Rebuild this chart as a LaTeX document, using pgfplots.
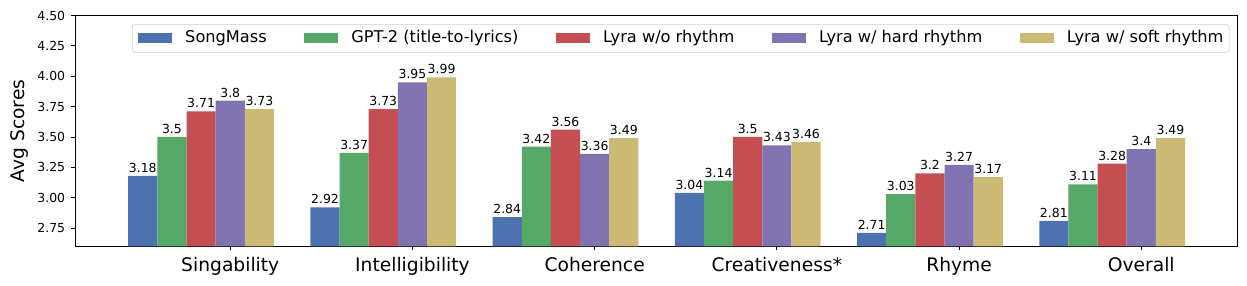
\documentclass[border=0pt]{standalone}
\usepackage{fontspec}
\setmainfont{DejaVu Sans}
\usepackage{pgfplots}
\pgfplotsset{compat=1.18}
\definecolor{cA}{HTML}{4C72B0}
\definecolor{cB}{HTML}{55A868}
\definecolor{cC}{HTML}{C44E52}
\definecolor{cD}{HTML}{8172B2}
\definecolor{cE}{HTML}{CCB974}
\pgfkeys{/pgf/number format/assume math mode=true}
\pgfplotsset{mylegend/.style={legend image code/.code={\fill[##1,draw=none,sharp corners] (0pt,-3.6pt) rectangle (24.6pt,3.6pt);}},
  bs/.style={ybar, bar shift=#1, every node near coord/.append style={shift={(axis direction cs:#1,0)}}}}
\begin{document}
\begin{tikzpicture}
\path[use as bounding box] (-54.2pt,-28pt) rectangle (847pt,178pt);
\begin{axis}[
  at={(0,0)}, anchor=south west,
  scale only axis, width=840pt, height=166.8pt,
  xmin=-0.852, xmax=5.527, ymin=2.6, ymax=4.5,
  xtick={0,1,2,3,4,5},
  xticklabels={Singability,Intelligibility,Coherence,Creativeness*,Rhyme,Overall},
  ytick={2.75,3,3.25,3.5,3.75,4,4.25,4.5},
  yticklabel={\pgfmathprintnumber[fixed,fixed zerofill,precision=2]{\tick}},
  /pgf/number format/assume math mode=true,
  tick align=outside, xtick pos=bottom, ytick pos=left,
  major tick length=3pt,
  tick style={black, line width=0.6pt},
  axis line style={line width=0.6pt},
  yticklabel style={font=\fontsize{9}{9}\selectfont, anchor=east, inner sep=0pt, xshift=-3.9pt},
  xticklabel style={font=\fontsize{13.5}{13.5}\selectfont, anchor=north, inner sep=0pt, text height=0.76em, yshift=-7.5pt},
  every axis y label/.style={at={(axis description cs:0,0.5)}, xshift=-46.5pt, rotate=90, anchor=north, inner sep=0pt, font=\fontsize{13.5}{13.5}\selectfont},
  ylabel={Avg Scores},
  bar width=0.16,
  nodes near coords={\pgfmathprintnumber{\pgfplotspointmeta}},
  every node near coord/.append style={font=\fontsize{9}{9}\selectfont, inner sep=0pt, anchor=south, yshift=2.2pt},
  legend columns=5,
  legend style={at={(rel axis cs:1,1)}, anchor=north east, xshift=-5.8pt, yshift=-6.4pt,
    draw=black!20, rounded corners=2pt, fill=white,
    font=\fontsize{11.7}{14}\selectfont, inner xsep=4pt, inner ysep=5pt,
    nodes={inner sep=0pt, text height=0.76em, text depth=0.24em},
    /tikz/every odd column/.append style={column sep=9.6pt},
    /tikz/every even column/.append style={column sep=27pt}},
]
\addplot[bs=-0.48, fill=cA, draw=none, mylegend] coordinates {(0,3.18) (1,2.92) (2,2.84) (3,3.04) (4,2.71) (5,2.81)};
\addlegendentry{SongMass}
\addplot[bs=-0.32, fill=cB, draw=none, mylegend] coordinates {(0,3.5) (1,3.37) (2,3.42) (3,3.14) (4,3.03) (5,3.11)};
\addlegendentry{GPT-2 (title-to-lyrics)}
\addplot[bs=-0.16, fill=cC, draw=none, mylegend] coordinates {(0,3.71) (1,3.73) (2,3.56) (3,3.5) (4,3.2) (5,3.28)};
\addlegendentry{Lyra w/o rhythm}
\addplot[bs=0, fill=cD, draw=none, mylegend] coordinates {(0,3.8) (1,3.95) (2,3.36) (3,3.43) (4,3.27) (5,3.4)};
\addlegendentry{Lyra w/ hard rhythm}
\addplot[bs=0.16, fill=cE, draw=none, mylegend] coordinates {(0,3.73) (1,3.99) (2,3.49) (3,3.46) (4,3.17) (5,3.49)};
\addlegendentry{Lyra w/ soft rhythm}
\end{axis}
\end{tikzpicture}
\end{document}
